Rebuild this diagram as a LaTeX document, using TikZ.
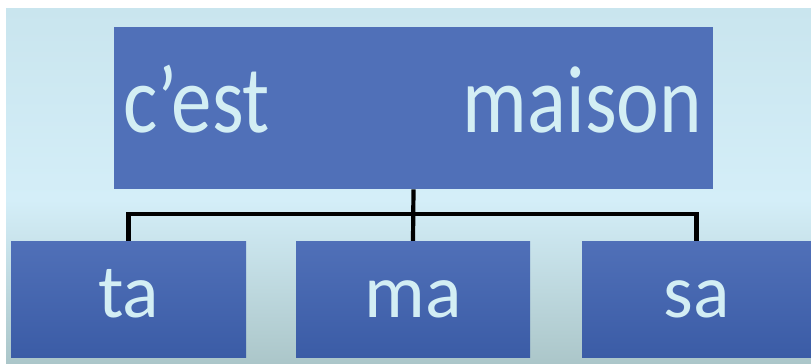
\documentclass[tikz,border=0pt]{standalone}
\usepackage{fontspec}
\setmainfont{Carlito}
\usetikzlibrary{positioning}

\definecolor{boxblue}{HTML}{5070B8}
\definecolor{boxdark}{HTML}{3B5CA6}
\definecolor{wordcol}{HTML}{D3EEF4}
\definecolor{bgtop}{HTML}{C9E5EE}
\definecolor{bgmid}{HTML}{D4EEF8}
\definecolor{bglow}{HTML}{C8E2EA}
\definecolor{bgbot}{HTML}{ABC6C9}

\tikzset{
    headbox/.style={
           rectangle,
           fill=boxblue,
           inner sep=0pt,
           minimum width=599pt, minimum height=162pt,
           },
    wordbox/.style={
           rectangle,
           top color=boxblue, bottom color=boxdark,
           inner sep=0pt,
           minimum height=116pt,
           text=wordcol,
           font=\fontsize{76}{80}\selectfont,
           text height=40pt, text depth=4pt,
           },
    headword/.style={
           inner sep=0pt,
           text=wordcol,
           font=\fontsize{81}{90}\selectfont,
           },
    tree/.style={
           draw=black, line width=4.2pt,
           },
}

\begin{document}
\begin{tikzpicture}[x=1pt,y=-1pt]

       \useasboundingbox (0,0) rectangle (811,364);
       % slide background
       \fill[white] (0,0) rectangle (811,364);
       \shade[top color=bgtop, bottom color=bgmid] (6,8) rectangle (811,200);
       \shade[top color=bgmid, middle color=bglow, bottom color=bgbot] (6,200) rectangle (811,364);

       \node[headbox] (MAISON) at (413.5,108.25) {};
       \node[headword, anchor=base west] (CEST) at ([xshift=9pt,yshift=-24pt]MAISON.west)
       {\scalebox{1}[1.18]{c’est}};
       \node[headword, anchor=base east] (NOUN) at ([xshift=-11pt,yshift=-24pt]MAISON.east)
       {\scalebox{1}[1.18]{maison}};

       \node[wordbox, minimum width=235pt] (TA) at (128.5,299) {ta};
       \node[wordbox, minimum width=234pt] (MA) at (413,299) {ma};
       \node[wordbox, minimum width=229pt] (SA) at (696.5,299) {sa};

       \coordinate (FORK) at (MAISON.south |- 0,214);

       \draw[tree] (MAISON.south) -- (MA.north) ;
       \draw[tree] (TA.north) |- (FORK) -| (SA.north) ;

\end{tikzpicture}
\end{document}
